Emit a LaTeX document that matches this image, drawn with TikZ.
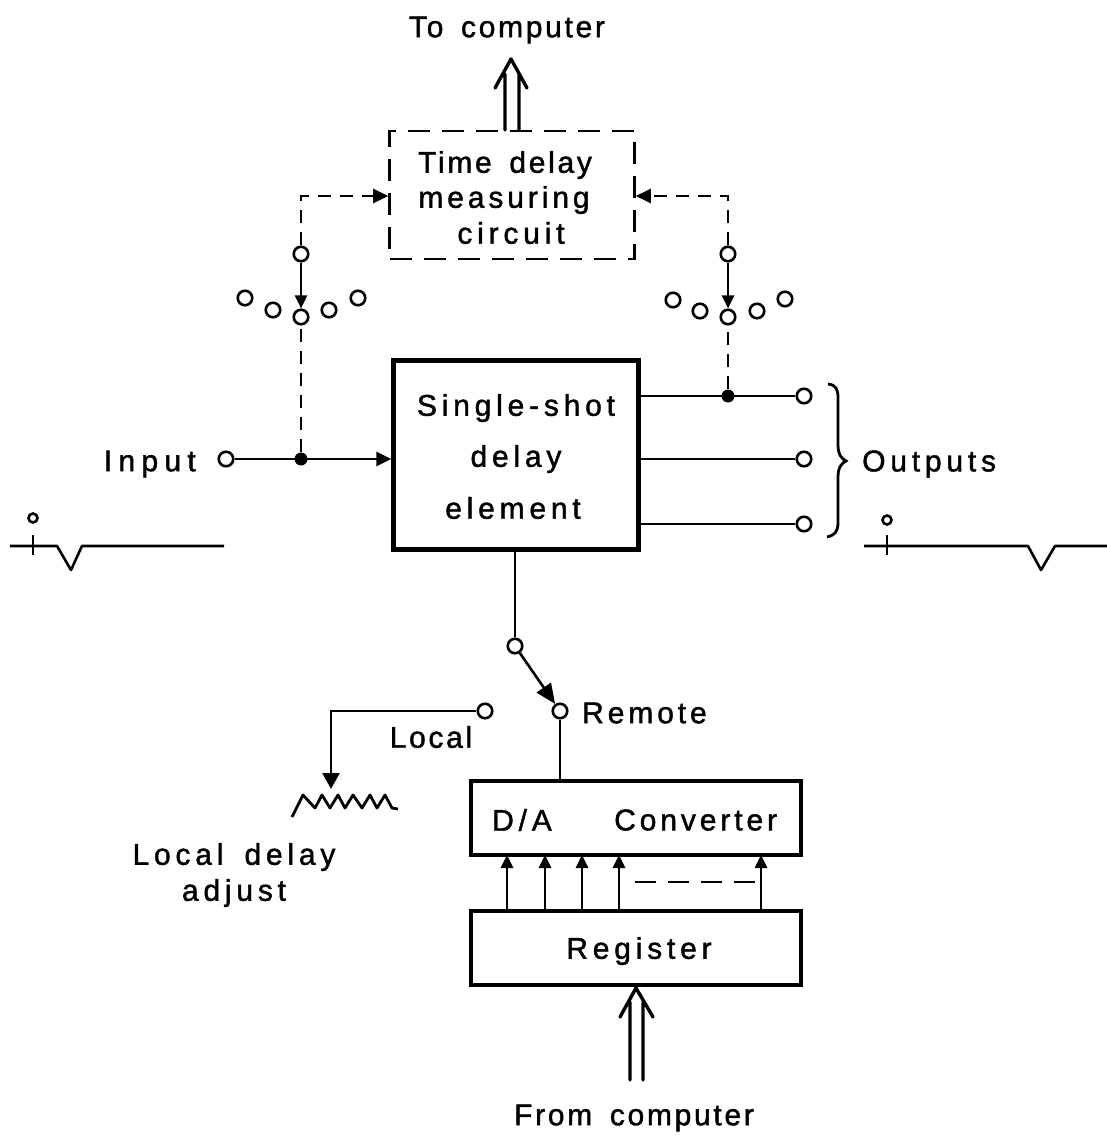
\documentclass[tikz,border=0pt]{standalone}
\usepackage{fontspec}
\setmainfont{Liberation Sans}
\newfontfamily\lsa[LetterSpace=9,WordSpace=1.6,FakeBold=1.4]{Liberation Sans}
\newfontfamily\lsb[LetterSpace=13,WordSpace=1.6,FakeBold=1.4]{Liberation Sans}
\newfontfamily\lsc[LetterSpace=16,WordSpace=1.6,FakeBold=1.4]{Liberation Sans}
\newfontfamily\lsd[LetterSpace=21,WordSpace=1.6,FakeBold=1.4]{Liberation Sans}
\usetikzlibrary{arrows.meta,calc}
\tikzset{
 line/.style={line width=2.6pt,black},
 dashline/.style={line width=2.6pt,dash pattern=on 13pt off 9pt},
 boxdash/.style={line width=2.6pt,dash pattern=on 22pt off 12pt},
 box/.style={draw,line width=4.4pt,inner sep=0pt},
 port/.style={circle,draw,line width=2.6pt,fill=white,minimum size=14.5pt,inner sep=0pt},
 jun/.style={circle,fill=black,minimum size=13pt,inner sep=0pt},
 lab/.style={font=\fontsize{30}{36}\selectfont,inner sep=0pt,align=center},
 tip/.style={-{Triangle[length=15pt,width=14pt]}},
 smalltip/.style={-{Triangle[length=13pt,width=12pt]}},
 heavy/.style={line width=3.4pt,line cap=round,line join=round},
}
\begin{document}
\begin{tikzpicture}[x=1pt,y=-1pt]
\useasboundingbox (0,0) rectangle (1107,1137);
% boxes
\node[draw,boxdash,inner sep=0pt,minimum width=245pt,minimum height=128pt] (tdm) at (512,195) {};
\node[lab] (tdmt1) at (505,165) {\lsa Time delay};
\node[lab] (tdmt2) at (504,200) {\lsb measuring};
\node[lab] (tdmt3) at (511,233) {\lsc circuit};
\node[box,minimum width=245pt,minimum height=189pt] (sse) at (516,455) {};
\node[lab] (sset1) at (516,408) {\lsc Single-shot};
\node[lab] (sset2) at (516,459) {\lsc delay};
\node[lab] (sset3) at (513,508) {\lsc element};
\node[box,minimum width=330pt,minimum height=74pt] (dac) at (636,818) {};
\node[lab,anchor=west] (dt1) at (492,820) {\lsc D/A};
\node[lab,anchor=west] (dt2) at (614,820) {\lsb Converter};
\node[box,minimum width=330pt,minimum height=74pt] (reg) at (636,948) {};
\node[lab] (regt) at (639,951) {\lsc Register};
% labels
\node[lab] (tc) at (507,30) {\lsa To computer};
\node[lab] (fc) at (634,1118) {\lsa From computer};
\node[lab,anchor=east] (inp) at (196,464) {\lsd Input};
\node[lab,anchor=west] (out) at (862,464) {\lsc Outputs};
\node[lab,anchor=west] (rem) at (582,713) {\lsb Remote};
\node[lab] (loc) at (431,737) {\lsa Local};
\node[lab] (lda) at (234,875) {\lsc Local delay\\\lsc adjust};
% ports
\node[port] (in) at (226,459) {};
\node[jun] (j1) at (301,459) {};
\node[port] (s1a) at (301,254) {};
\node[port] (s1b) at (301,317) {};
\node[port] (a1) at (245,298) {}; \node[port] (a2) at (273,310) {}; \node[port] (a3) at (329,310) {}; \node[port] (a4) at (358,298) {};
\node[port] (s2a) at (728,254) {};
\node[port] (s2b) at (728,317) {};
\node[port] (b1) at (673,300) {}; \node[port] (b2) at (700,311) {}; \node[port] (b3) at (757,311) {}; \node[port] (b4) at (785,299) {};
\node[jun] (j2) at (728,396) {};
\node[port] (o1) at (804,396) {};
\node[port] (o2) at (804,459) {};
\node[port] (o3) at (804,524) {};
\node[port] (sw) at (515,646) {};
\node[port] (rm) at (560,711) {};
\node[port] (lc) at (485,711) {};
\coordinate (c1) at (301,196);
\coordinate (c2) at (728,196);
\coordinate (c3) at (331,711);
\coordinate (c4) at (331,789);
% connectors
\draw[line,tip] (in) -- (sse.west|-in);
\draw[line] (o1) -- (sse.east|-o1);
\draw[line] (o2) -- (sse.east|-o2);
\draw[line] (o3) -- (sse.east|-o3);
\draw[dashline] (j1) -- (s1b);
\draw[line,smalltip] (s1a) -- (s1b);
\draw[dashline,tip] (s1a) -- (c1) -- (tdm.west|-c1);
\draw[dashline] (j2) -- (s2b);
\draw[line,smalltip] (s2a) -- (s2b);
\draw[dashline,tip] (s2a) -- (c2) -- (tdm.east|-c2);
\draw[line] (sse.south-|sw) -- (sw);
\draw[line,-{Triangle[length=20pt,width=17pt]}] (sw) -- (rm);
\draw[line] (rm) -- (dac.north-|rm);
\draw[line,-{Triangle[length=16pt,width=17pt]}] (lc) -- (c3) -- (c4);
% resistor
\draw[line,line width=2.8pt,line join=round] (292,817) -- (303,795) -- (315,808) -- (322,795) -- (330,808) -- (338,795) -- (345,808) -- (353,795) -- (362,808) -- (370,795) -- (377,808) -- (385,795) -- (392,808) -- (398,809);
% bus arrows
\foreach \xx in {507,545,582,619,761}
 \draw[line,smalltip] (\xx,911) -- (\xx,855);
\draw[line,dash pattern=on 21pt off 12pt] (635,882) -- (755,882);
% double arrows
\draw[heavy] (505,130) -- (505,74) (519,130) -- (519,74) (495,88) -- (511,59) -- (527,88);
\draw[heavy] (630,1080) -- (630,1002) (643,1080) -- (643,1002) (620,1017) -- (636,988) -- (653,1017);
% brace
\draw[line,line width=2.8pt] (828,384) .. controls (836,385) and (838,389) .. (838,398) -- (838,445) .. controls (838,455) and (842,459) .. (846,461) .. controls (842,463) and (838,467) .. (838,477) -- (838,522) .. controls (838,532) and (835,535) .. (827,537);
% pulses
\node[port,minimum size=9pt] (p1) at (33,518) {};
\coordinate (t1a) at (33,535); \coordinate (t1b) at (33,555);
\draw[line] (t1a) -- (t1b);
\draw[line,line join=round] (10,546) -- (57,546) -- (71,570) -- (82,546) -- (224,546);
\node[port,minimum size=9pt] (p2) at (887,520) {};
\coordinate (t2a) at (887,535); \coordinate (t2b) at (887,555);
\draw[line] (t2a) -- (t2b);
\draw[line,line join=round] (864,546) -- (1028,546) -- (1041,570) -- (1055,546) -- (1107,546);
\end{tikzpicture}
\end{document}
